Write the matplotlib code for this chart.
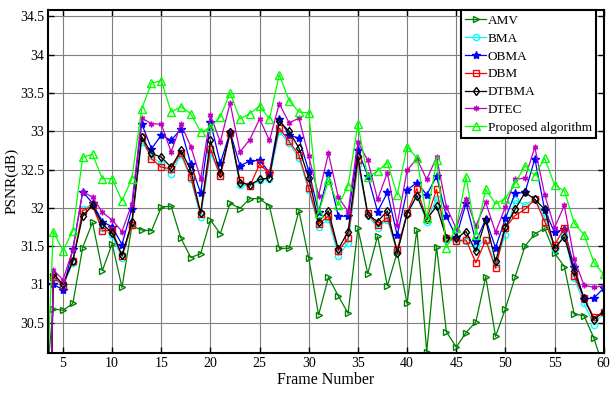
import matplotlib
matplotlib.use("Agg")
import matplotlib.pyplot as plt
import numpy as np

plt.rcParams['font.family'] = ['Liberation Serif', 'DejaVu Serif']

frames = list(range(3, 61))

amv = [29.3, 30.68, 30.66, 30.75, 31.48, 31.81, 31.18, 31.53, 30.96, 31.76, 31.71,
       31.70, 32.01, 32.02, 31.60, 31.35, 31.40, 31.84, 31.66, 32.06, 31.99, 32.12,
       32.12, 32.02, 31.47, 31.47, 31.96, 31.34, 30.60, 31.09, 30.85, 30.62, 31.73,
       31.14, 31.63, 30.98, 31.42, 30.75, 31.71, 30.12, 31.49, 30.38, 30.18, 30.37,
       30.51, 31.10, 30.32, 30.68, 31.10, 31.50, 31.66, 31.73, 31.41, 31.23, 30.61,
       30.59, 30.30, 29.90]
bma = [24.0, 31.08, 30.98, 31.28, 31.98, 32.05, 31.74, 31.64, 31.34, 31.78, 32.86,
       32.68, 32.57, 32.44, 32.69, 32.38, 31.88, 32.72, 32.42, 32.97, 32.30, 32.28,
       32.36, 32.38, 33.00, 32.84, 32.65, 32.23, 31.75, 31.85, 31.37, 31.54, 32.57,
       31.90, 31.74, 31.84, 31.42, 31.92, 32.16, 31.82, 32.12, 31.58, 31.56, 31.56,
       31.49, 31.58, 31.27, 31.65, 32.10, 32.04, 32.11, 31.88, 31.46, 31.65, 31.08,
       30.75, 30.47, 30.63]
obma = [24.0, 31.00, 30.93, 31.46, 32.21, 32.06, 31.82, 31.75, 31.52, 31.99, 33.10,
        32.77, 32.95, 32.88, 33.03, 32.57, 32.19, 33.12, 32.58, 32.99, 32.55, 32.61,
        32.62, 32.46, 33.16, 32.95, 32.91, 32.48, 31.94, 32.45, 31.89, 31.89, 32.75,
        32.42, 31.95, 32.20, 31.64, 32.23, 32.33, 32.17, 32.41, 31.89, 31.62, 32.06,
        31.56, 31.85, 31.48, 31.86, 32.19, 32.20, 32.64, 31.97, 31.68, 31.72, 31.22,
        30.81, 30.82, 30.95]
dbm = [24.0, 31.10, 30.99, 31.30, 31.96, 32.03, 31.70, 31.71, 31.37, 31.77, 32.92,
       32.64, 32.53, 32.51, 32.72, 32.40, 31.92, 32.77, 32.41, 32.98, 32.36, 32.28,
       32.57, 32.45, 33.04, 32.87, 32.69, 32.26, 31.79, 31.89, 31.44, 31.60, 32.62,
       31.93, 31.77, 31.87, 31.45, 31.93, 32.25, 31.85, 32.24, 31.60, 31.57, 31.58,
       31.28, 31.58, 31.21, 31.74, 31.90, 31.98, 32.11, 31.82, 31.51, 31.74, 31.11,
       30.82, 30.57, 30.64]
dtbma = [24.0, 31.14, 31.00, 31.31, 31.89, 32.03, 31.79, 31.67, 31.38, 31.81, 32.93,
         32.71, 32.66, 32.53, 32.75, 32.49, 31.93, 32.88, 32.45, 32.99, 32.33, 32.30,
         32.37, 32.39, 33.13, 33.00, 32.78, 32.39, 31.82, 31.96, 31.46, 31.69, 32.67,
         31.91, 31.82, 31.96, 31.41, 31.92, 32.16, 31.85, 32.02, 31.61, 31.60, 31.69,
         31.43, 31.84, 31.30, 31.75, 31.98, 32.20, 32.11, 31.98, 31.47, 31.62, 31.18,
         30.82, 30.54, 30.64]
dtec = [24.0, 31.19, 31.06, 31.45, 32.21, 32.14, 31.94, 31.84, 31.69, 32.05, 33.17,
        33.10, 33.09, 32.73, 33.09, 32.80, 32.38, 33.21, 32.86, 33.37, 32.73, 32.89,
        33.16, 32.88, 33.36, 33.11, 33.17, 32.67, 32.16, 32.71, 32.14, 31.95, 32.86,
        32.62, 32.11, 32.46, 31.78, 32.49, 32.64, 32.37, 32.66, 32.01, 31.73, 32.12,
        31.76, 32.07, 31.68, 32.01, 32.37, 32.39, 32.79, 32.17, 31.74, 32.03, 31.33,
        30.99, 30.96, 30.98]
proposed = [28.5, 31.69, 31.44, 31.70, 32.66, 32.70, 32.38, 32.38, 32.09, 32.38, 33.29,
            33.63, 33.66, 33.25, 33.32, 33.23, 32.99, 33.05, 33.19, 33.50, 33.16, 33.23,
            33.33, 33.16, 33.74, 33.40, 33.25, 33.24, 31.93, 32.36, 32.03, 32.29, 33.09,
            32.40, 32.48, 32.59, 32.17, 32.80, 32.65, 31.86, 32.62, 31.48, 31.74, 32.40,
            31.65, 32.24, 32.05, 32.12, 32.32, 32.55, 32.42, 32.65, 32.30, 32.22, 31.80,
            31.65, 31.29, 31.13]

fig = plt.figure(figsize=(6.11, 3.96), dpi=100)
ax = fig.add_axes([0.079, 0.108, 0.909, 0.868])

ax.plot(frames, amv, color='#008000', marker='>', ms=5, mfc='none', lw=0.9, label='AMV')
ax.plot(frames, bma, color='#00ffff', marker='o', ms=4.5, mfc='none', lw=0.9, label='BMA')
ax.plot(frames, obma, color='#0000ff', marker='*', ms=6, lw=0.9, label='OBMA')
ax.plot(frames, dbm, color='#ff0000', marker='s', ms=5, mfc='none', lw=0.9, label='DBM')
ax.plot(frames, dtbma, color='#000000', marker='d', ms=4.5, mfc='none', lw=0.9, label='DTBMA')
ax.plot(frames, dtec, color='#bf00bf', marker=(6, 2, 0), ms=4, lw=0.9, label='DTEC')
ax.plot(frames, proposed, color='#00ff00', marker='^', ms=5.5, mfc='none', lw=0.9,
        label='Proposed algorithm')

ax.set_xlim(3.5, 60)
ax.set_ylim(30.1, 34.59)
ax.set_xticks(np.arange(5, 61, 5))
yt = np.arange(30.5, 34.51, 0.5)
ax.set_yticks(yt)
ax.set_yticklabels(['%g' % v for v in yt])
ax.tick_params(direction='in', top=True, right=True, labelsize=10, length=4, width=1,
               pad=3)
ax.grid(True, color='#7f7f7f', lw=0.8)
for s in ax.spines.values():
    s.set_linewidth(1.5)

ax.set_xlabel('Frame Number', fontsize=11.5, labelpad=1)
ax.set_ylabel('PSNR(dB)', fontsize=11)
ax.yaxis.set_label_coords(-0.053, 0.5)

leg = ax.legend(loc='upper right', bbox_to_anchor=(0.987, 0.998), borderaxespad=0,
                fancybox=False, edgecolor='black', framealpha=1, fontsize=9.5,
                handlelength=1.6, handletextpad=0.1, labelspacing=0.42,
                borderpad=0.35)
leg.get_frame().set_linewidth(1.5)

fig.savefig('out.png', dpi=100)
